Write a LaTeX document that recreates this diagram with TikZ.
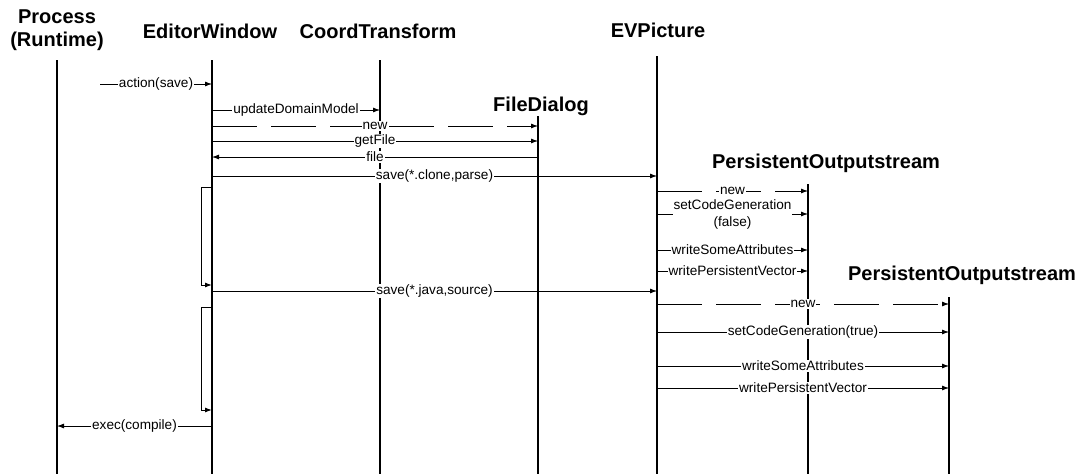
\documentclass[tikz,border=0pt]{standalone}
\usepackage{fontspec}
\setmainfont{Liberation Sans}
\usetikzlibrary{arrows.meta}

\tikzset{
  title/.style={font=\bfseries\fontsize{20}{23}\selectfont, align=center, inner sep=0pt},
  lbl/.style={font=\fontsize{13.6}{17}\selectfont, fill=white, inner sep=1pt, align=center},
  life/.style={line width=1.4pt},
  msg/.style={line width=0.8pt, -{Latex[length=7pt,width=5pt]}},
  async/.style={msg, dash pattern=on 45pt off 14pt},
  selfcall/.style={line width=1pt, -{Latex[length=7pt,width=5pt]}}
}

\begin{document}
\begin{tikzpicture}[x=1pt, y=-1pt]
\useasboundingbox (0,0) rectangle (1083,474);

% object headings
\node[title] (hProc) at (57,30)  {Process\\(Runtime)};
\node[title] (hEW)   at (210,31) {EditorWindow};
\node[title] (hCT)   at (378,31) {CoordTransform};
\node[title] (hEV)   at (658,30) {EVPicture};
\node[title] (hFD)   at (541,106) {FileDialog};
\node[title] (hPO1)  at (826,163) {PersistentOutputstream};
\node[title] (hPO2)  at (962,275) {PersistentOutputstream};

% lifelines
\coordinate (pr)  at (57,60);
\coordinate (ew)  at (212,60);
\coordinate (ct)  at (380,60);
\coordinate (fd)  at (538,116);
\coordinate (ev)  at (657,56);
\coordinate (po1) at (808,184);
\coordinate (po2) at (949,297);
\coordinate (start) at (100,84);

\foreach \l in {pr,ew,ct,fd,ev,po1,po2}
  \draw[life] (\l) -- (\l |- 0,474);

% EditorWindow side
\draw[msg] (start) -- node[lbl]{action(save)} (ew |- start);
\draw[msg] (ew |- 0,110) -- node[lbl]{updateDomainModel} (ct |- 0,110);
\draw[async] (ew |- 0,126) -- node[lbl]{new} (fd |- 0,126);
\draw[msg] (ew |- 0,141) -- node[lbl]{getFile} (fd |- 0,141);
\draw[msg] (fd |- 0,157) -- node[lbl]{file} (ew |- 0,157);
\draw[msg] (ew |- 0,176) -- node[lbl]{save(*.clone,parse)} (ev |- 0,176);
\draw[selfcall] (ew |- 0,187) -- ++(-11,0) |- (ew |- 0,285);
\draw[msg] (ew |- 0,291) -- node[lbl]{save(*.java,source)} (ev |- 0,291);
\draw[selfcall] (ew |- 0,307) -- ++(-11,0) |- (ew |- 0,410);
\draw[msg] (ew |- 0,426) -- node[lbl]{exec(compile)} (pr |- 0,426);

% first output stream
\draw[async] (ev |- 0,191) -- node[lbl]{new} (po1 |- 0,191);
\draw[msg] (ev |- 0,214) -- node[lbl]{setCodeGeneration\\(false)} (po1 |- 0,214);
\draw[msg] (ev |- 0,250) -- node[lbl]{writeSomeAttributes} (po1 |- 0,250);
\draw[msg] (ev |- 0,271) -- node[lbl]{writePersistentVector} (po1 |- 0,271);

% second output stream
\draw[async] (ev |- 0,304) -- node[lbl]{new} (po2 |- 0,304);
\draw[msg] (ev |- 0,332) -- node[lbl]{setCodeGeneration(true)} (po2 |- 0,332);
\draw[msg] (ev |- 0,366) -- node[lbl]{writeSomeAttributes} (po2 |- 0,366);
\draw[msg] (ev |- 0,388) -- node[lbl]{writePersistentVector} (po2 |- 0,388);
\end{tikzpicture}
\end{document}
